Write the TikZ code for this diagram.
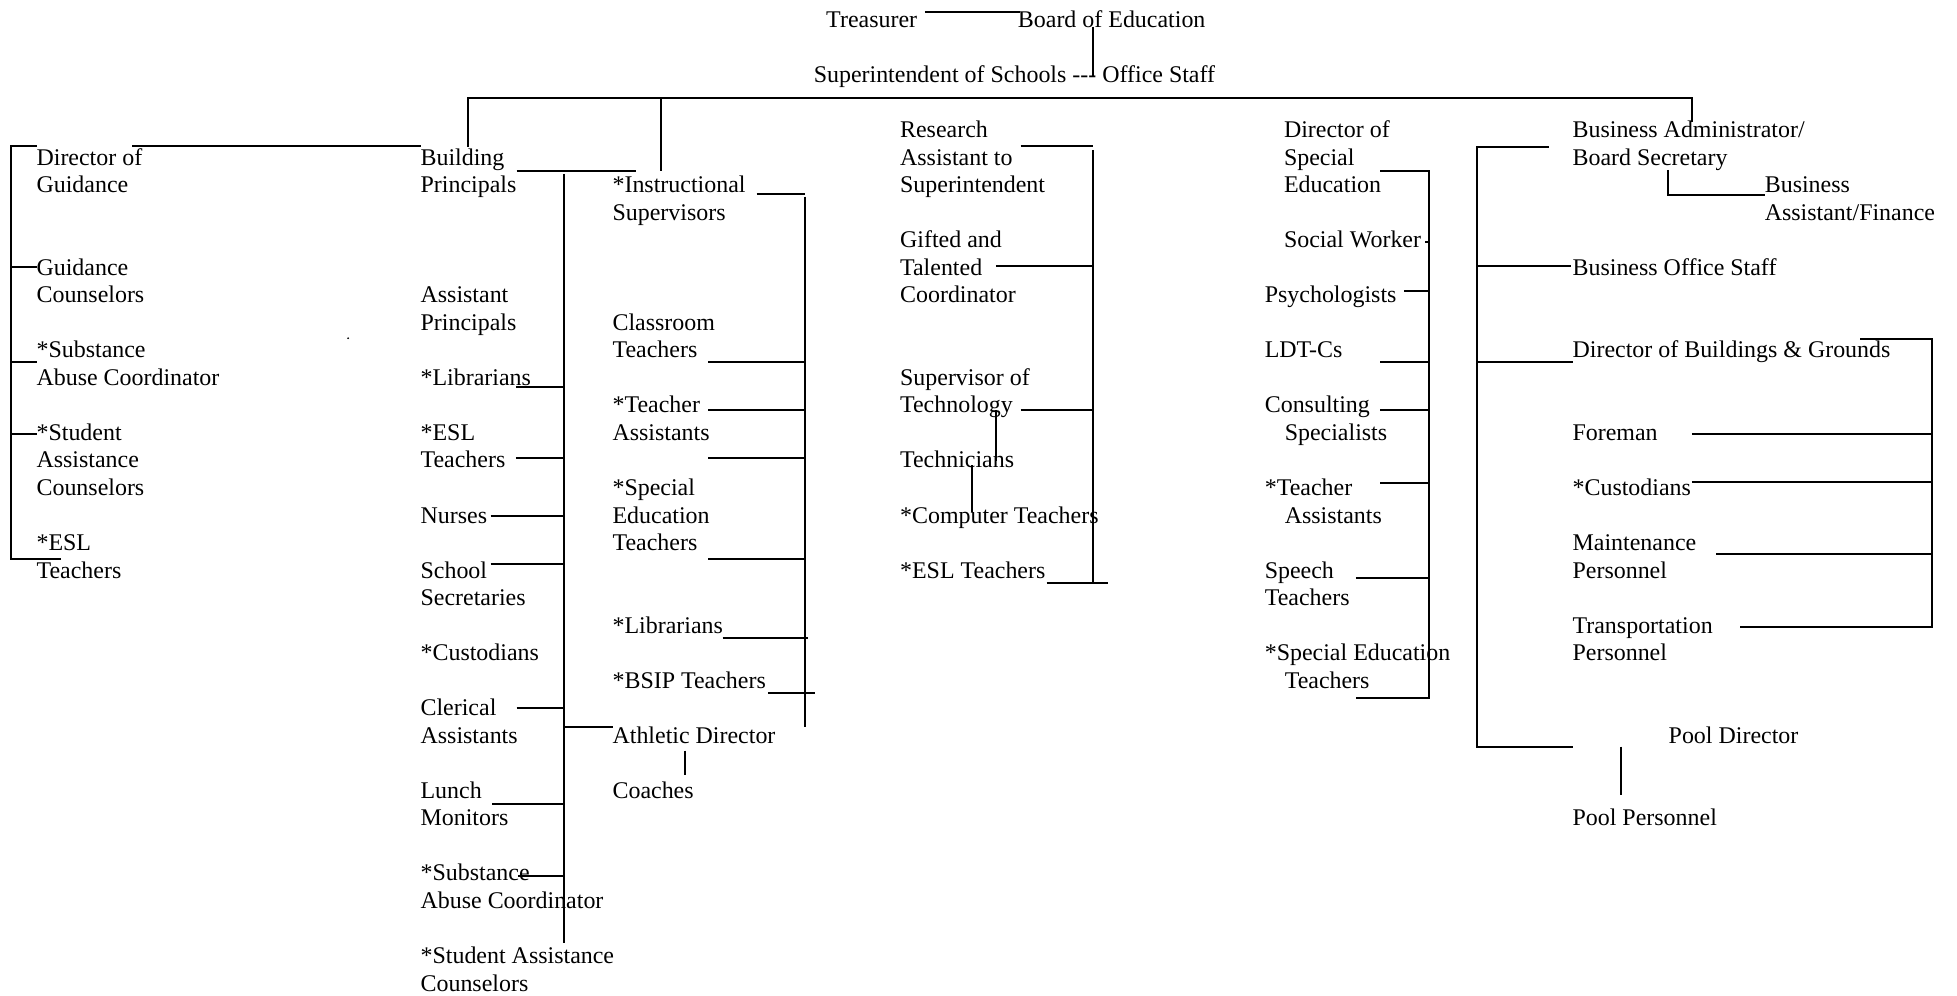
\documentclass[tikz,border=0pt]{standalone}
\usepackage{fontspec}
\setmainfont{Liberation Serif}
\newcommand\mlt[1]{\begin{tabular}[t]{@{}l@{}}#1\end{tabular}}
\newcommand\ind{\hspace*{10pt}}
\begin{document}
\begin{tikzpicture}[x=0.6256pt,y=-0.6256pt,
  lbl/.style={anchor=base west,inner sep=0pt,outer sep=0pt,font=\fontsize{12}{13.8}\selectfont},
  conn/.style={line width=1pt,line cap=butt}]
\useasboundingbox (0,0) rectangle (1568,798);
% ---------- top ----------
\node[lbl] (treas) at (662,22) {Treasurer};
\node[lbl] (board) at (815.6,22) {Board of Education};
\node[lbl] (supt) at (652,66.12) {Superintendent of Schools \hbox{-}\hbox{-}\hbox{-} Office Staff};
% ---------- guidance column ----------
\node[lbl] (dirg) at (29.3,132.3) {\mlt{Director of\\Guidance}};
\node[lbl] (gcoun) at (29.3,220.54) {\mlt{Guidance\\Counselors}};
\node[lbl] (subl) at (29.3,286.72) {\mlt{*Substance\\Abuse Coordinator}};
\node[lbl] (stul) at (29.3,352.9) {\mlt{*Student\\Assistance\\Counselors}};
\node[lbl] (esll) at (29.3,441.14) {\mlt{*ESL\\Teachers}};
% ---------- building column ----------
\node[lbl] (bp) at (337,132.3) {\mlt{Building\\Principals}};
\node[lbl] (ap) at (337,242.6) {\mlt{Assistant\\Principals}};
\node[lbl] (libb) at (337,308.78) {*Librarians};
\node[lbl] (eslb) at (337,352.9) {\mlt{*ESL\\Teachers}};
\node[lbl] (nurse) at (337,419.08) {Nurses};
\node[lbl] (secr) at (337,463.2) {\mlt{School\\Secretaries}};
\node[lbl] (custb) at (337,529.38) {*Custodians};
\node[lbl] (cler) at (337,573.5) {\mlt{Clerical\\Assistants}};
\node[lbl] (lunch) at (337,639.68) {\mlt{Lunch\\Monitors}};
\node[lbl] (subb) at (337,705.86) {\mlt{*Substance\\Abuse Coordinator}};
\node[lbl] (stub) at (337,772.04) {\mlt{*Student Assistance\\Counselors}};
% ---------- instructional column ----------
\node[lbl] (instr) at (490.8,154.36) {\mlt{*Instructional\\Supervisors}};
\node[lbl] (class) at (490.8,264.66) {\mlt{Classroom\\Teachers}};
\node[lbl] (tai) at (490.8,330.84) {\mlt{*Teacher\\Assistants}};
\node[lbl] (spedi) at (490.8,397.02) {\mlt{*Special\\Education\\Teachers}};
\node[lbl] (libi) at (490.8,507.32) {*Librarians};
\node[lbl] (bsip) at (490.8,551.44) {*BSIP Teachers};
\node[lbl] (ath) at (490.8,595.56) {Athletic Director};
\node[lbl] (coach) at (490.8,639.68) {Coaches};
% ---------- research column ----------
\node[lbl] (res) at (721.2,110.24) {\mlt{Research\\Assistant to\\Superintendent}};
\node[lbl] (gift) at (721.2,198.48) {\mlt{Gifted and\\Talented\\Coordinator}};
\node[lbl] (suptech) at (721.2,308.78) {\mlt{Supervisor of\\Technology}};
\node[lbl] (tech) at (721.2,374.96) {Technicians};
\node[lbl] (comp) at (721.2,419.08) {*Computer Teachers};
\node[lbl] (eslr) at (721.2,463.2) {*ESL Teachers};
% ---------- special education column ----------
\node[lbl] (dse) at (1028.8,110.24) {\mlt{Director of\\Special\\Education}};
\node[lbl] (sw) at (1028.8,198.48) {Social Worker};
\node[lbl] (psy) at (1013.4,242.6) {Psychologists};
\node[lbl] (ldt) at (1013.4,286.72) {LDT-Cs};
\node[lbl] (cons) at (1013.4,330.84) {\mlt{Consulting\\\ind Specialists}};
\node[lbl] (tas) at (1013.4,397.02) {\mlt{*Teacher\\\ind Assistants}};
\node[lbl] (speech) at (1013.4,463.2) {\mlt{Speech\\Teachers}};
\node[lbl] (spet) at (1013.4,529.38) {\mlt{*Special Education\\\ind Teachers}};
% ---------- business column ----------
\node[lbl] (ba) at (1260,110.24) {\mlt{Business Administrator/\\Board Secretary}};
\node[lbl] (baf) at (1414,154.36) {\mlt{Business\\Assistant/Finance}};
\node[lbl] (bos) at (1260,220.54) {Business Office Staff};
\node[lbl] (dbg) at (1260,286.72) {Director of Buildings \& Grounds};
\node[lbl] (fore) at (1260,352.9) {Foreman};
\node[lbl] (custbus) at (1260,397.02) {*Custodians};
\node[lbl] (maint) at (1260,441.14) {\mlt{Maintenance\\Personnel}};
\node[lbl] (trans) at (1260,507.32) {\mlt{Transportation\\Personnel}};
\node[lbl] (pooldir) at (1337,595.56) {Pool Director};
\node[lbl] (poolp) at (1260,661.74) {Pool Personnel};
\fill (279,271) circle[radius=0.8];
% ---------- spine coordinates ----------
\coordinate (busL) at (375,78.8);
\coordinate (busR) at (1356,78.8);
\coordinate (spG) at (9,117);
\coordinate (spB) at (452,139.4);
\coordinate (spI) at (644.6,157.6);
\coordinate (spR) at (875.7,120);
\coordinate (spS) at (1144.7,136.8);
\coordinate (spBu) at (1183.1,117.5);
\coordinate (spBG) at (1548,271.4);
% ---------- top connectors ----------
\draw[conn] (741,9.4) -- (817,9.4);
\draw[conn] (876,21.4) -- (876,62);
\draw[conn] (375,117.5) -- (busL) -- (busR) -- (1356,97.5);
\draw[conn] (529.4,78.8) -- (529.4,136.8);
\draw[conn] (413.9,136.8) -- (509.7,136.8);
% ---------- guidance ----------
\draw[conn] (106,117) -- (337,117);
\draw[conn] (29.7,117) -- (spG) -- (9,447.6) -- (48.6,447.6);
\draw[conn] (9,213.7) -- (29.5,213.7);
\draw[conn] (9,290.3) -- (29.5,290.3);
\draw[conn] (9,347.8) -- (29.5,347.8);
% ---------- building ----------
\draw[conn] (spB) -- (452,755.3);
\draw[conn] (413.4,309.8) -- (452,309.8);
\draw[conn] (413.4,366.7) -- (452,366.7);
\draw[conn] (393,413.2) -- (452,413.2);
\draw[conn] (393,451.9) -- (452,451.9);
\draw[conn] (414,567.3) -- (452,567.3);
\draw[conn] (452,582.8) -- (491.3,582.8);
\draw[conn] (394.4,644) -- (452,644);
\draw[conn] (414.9,701.9) -- (452,701.9);
% ---------- instructional ----------
\draw[conn] (606.3,155.7) -- (644.6,155.7);
\draw[conn] (spI) -- (644.6,582.8);
\draw[conn] (567.6,290.3) -- (644.6,290.3);
\draw[conn] (567.6,328.5) -- (644.6,328.5);
\draw[conn] (567.6,366.7) -- (644.6,366.7);
\draw[conn] (567.6,447.6) -- (644.6,447.6);
\draw[conn] (578.9,511.5) -- (647,511.5);
\draw[conn] (615.2,555) -- (653.2,555);
\draw[conn] (548.5,601.5) -- (548.5,621);
% ---------- research ----------
\draw[conn] (817.7,117) -- (875.7,117);
\draw[conn] (spR) -- (875.7,467.4);
\draw[conn] (798,213.1) -- (875.7,213.1);
\draw[conn] (817.7,328.5) -- (875.7,328.5);
\draw[conn] (798.4,328.5) -- (798.4,369.1);
\draw[conn] (778.7,372.6) -- (778.7,410);
\draw[conn] (838.5,467.4) -- (887.5,467.4);
% ---------- special education ----------
\draw[conn] (1105.9,136.8) -- (spS) -- (1144.7,559.6) -- (1086.4,559.6);
\draw[conn] (1142,193.6) -- (1144.7,193.6);
\draw[conn] (1125.2,232.9) -- (1144.7,232.9);
\draw[conn] (1106,290.3) -- (1144.7,290.3);
\draw[conn] (1106,328.5) -- (1144.7,328.5);
\draw[conn] (1106,386.8) -- (1144.7,386.8);
\draw[conn] (1086.4,463.4) -- (1144.7,463.4);
% ---------- business ----------
\draw[conn] (1240.9,117.5) -- (spBu) -- (1183.1,598.3) -- (1260.1,598.3);
\draw[conn] (1183.1,212.9) -- (1258.5,212.9);
\draw[conn] (1183.1,290.3) -- (1260.7,290.3);
\draw[conn] (1336.7,136.2) -- (1336.7,156.3) -- (1414.2,156.3);
\draw[conn] (1490.6,271.4) -- (spBG) -- (1548,502.1) -- (1394.2,502.1);
\draw[conn] (1355.5,348) -- (1548,348);
\draw[conn] (1355.5,386.5) -- (1548,386.5);
\draw[conn] (1375,444.2) -- (1548,444.2);
\draw[conn] (1298.6,598.3) -- (1298.6,637);
\end{tikzpicture}
\end{document}
